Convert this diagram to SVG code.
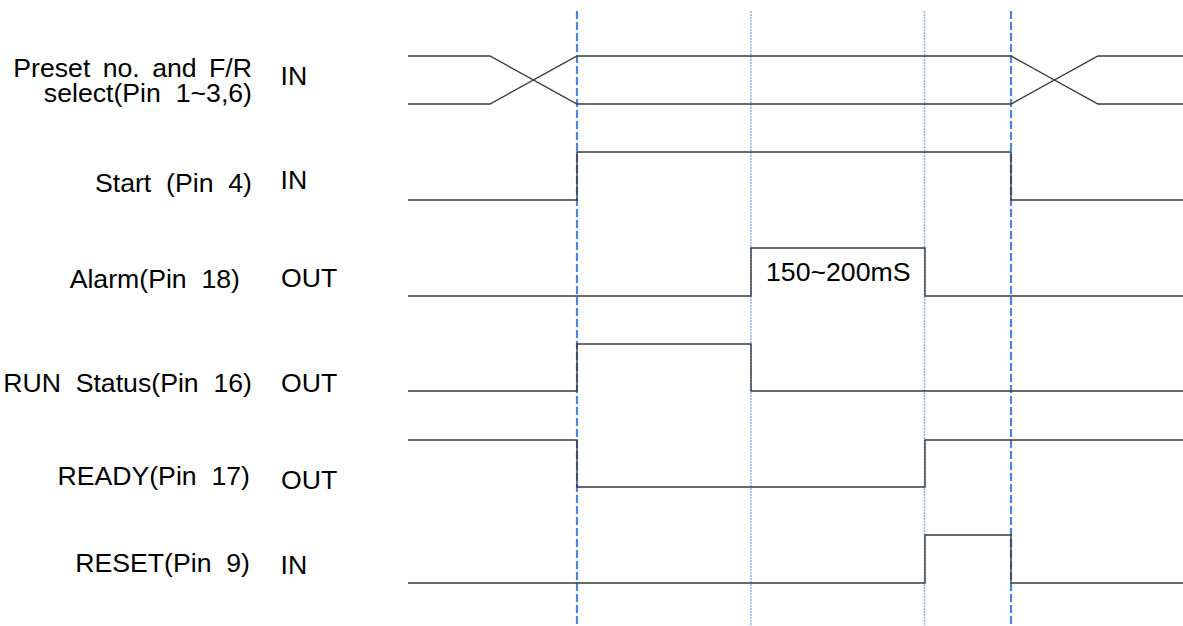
<svg xmlns="http://www.w3.org/2000/svg" width="1183" height="626" viewBox="0 0 1183 626">
<style>
.t{font-family:"Liberation Sans",Arial,sans-serif;font-size:26.67px;fill:#000;white-space:pre}
.lbl{text-anchor:end}
.sig{fill:none;stroke:#3a3a3a;stroke-width:1.4}
.dash{stroke:#4a86e0;stroke-width:2.2;stroke-dasharray:8 3;fill:none}
.dot{stroke:#8ab4ee;stroke-width:1.5;stroke-dasharray:2 1;fill:none}
</style>
<rect width="1183" height="626" fill="#fff"/>
<g id="guides">
<line class="dash" x1="577" y1="11" x2="577" y2="626"/>
<line class="dot" x1="751" y1="11" x2="751" y2="626"/>
<line class="dot" x1="924.5" y1="11" x2="924.5" y2="626"/>
<line class="dash" x1="1011" y1="11" x2="1011" y2="626"/>
</g>
<g id="connectors">
<path class="sig" d="M408,56 H490 L577,104 H1011 L1098,56 H1183"/>
<path class="sig" d="M408,104 H490 L577,56 H1011 L1098,104 H1183"/>
<path class="sig" d="M408,200 H577 V152 H1011 V200 H1183"/>
<path class="sig" d="M408,296 H751 V248 H925 V296 H1183"/>
<path class="sig" d="M408,391 H577 V344 H751 V391 H1183"/>
<path class="sig" d="M408,440 H577 V487 H925 V440 H1183"/>
<path class="sig" d="M408,583 H925 V535 H1011 V583 H1183"/>
</g>
<g id="preset">
<text class="t lbl" x="252" y="77" word-spacing="5">Preset no. and F/R</text>
<text class="t lbl" x="252" y="102">select(Pin  1~3,6)</text>
<text class="t" x="280.5" y="85">IN</text>
</g>
<g id="start">
<text class="t lbl" x="252" y="192">Start  (Pin  4)</text>
<text class="t" x="280.5" y="189">IN</text>
</g>
<g id="alarm">
<text class="t lbl" x="240" y="288">Alarm(Pin  18)</text>
<text class="t" x="281" y="287">OUT</text>
<text class="t" x="766" y="281">150~200mS</text>
</g>
<g id="run">
<text class="t lbl" x="252" y="392">RUN  Status(Pin  16)</text>
<text class="t" x="281" y="392">OUT</text>
</g>
<g id="ready">
<text class="t lbl" x="250" y="485">READY(Pin  17)</text>
<text class="t" x="281" y="489">OUT</text>
</g>
<g id="reset">
<text class="t lbl" x="250" y="572">RESET(Pin  9)</text>
<text class="t" x="280.5" y="574">IN</text>
</g>
</svg>
